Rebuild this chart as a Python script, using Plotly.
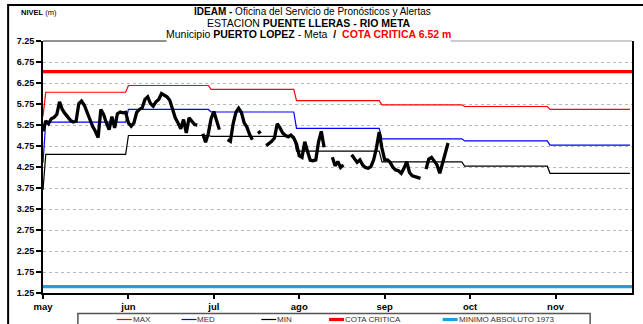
import datetime as dt
import plotly.graph_objects as go

# ---------------------------------------------------------------- data
start = dt.datetime(2011, 5, 1)

# daily water level (m) from 1 May; None = no reading
nivel = [
    5.10, 5.35, 5.28, 5.40, 5.43, 5.50, 5.80, 5.62, 5.52, 5.44,
    5.36, 5.32, 5.34, 5.76, 5.82, 5.72, 5.55, 5.40, 5.22, 5.10,
    4.95, 5.62, 5.50, 5.30, 5.14, 5.45, 5.18, 5.52, 5.56, 5.54,
    5.55, 5.30, 5.22, 5.30, 5.55, 5.62, 5.66, 5.86, 5.92, 5.76,
    5.70, 5.80, 5.86, 6.00, 5.96, 5.92, 5.84, 5.62, 5.42, 5.30,
    5.16, 5.38, 5.06, 5.42, 5.33, 5.26, 5.25, None, 5.04, 4.84,
    5.05, 5.40, 5.57, 5.35, 5.14, None, None, 4.90, 4.86, 5.28,
    5.55, 5.65, 5.55, 5.30, 5.20, 5.02, 4.90, None, 5.05, 5.10,
    None, 4.76, 4.80, 4.86, 4.94, 5.28, 5.18, 5.06, 5.00, 4.97,
    5.01, 4.94, 4.80, 4.52, 4.48, 4.85, 4.62, 4.41, 4.40, 4.42,
    4.85, 5.10, 4.72, None, None, 4.48, 4.28, 4.38, 4.24, 4.30,
    None, None, 4.54, 4.46, 4.36, 4.42, 4.30, 4.24, 4.22, 4.26,
    4.42, 4.70, 5.08, 4.70, 4.42, 4.42, 4.36, 4.24, 4.18, 4.16,
    4.10, 4.22, 4.38, 4.12, 4.04, 4.02, 4.00, 3.98, None, 4.20,
    4.44, 4.48, 4.38, 4.30, 4.10, 4.36, 4.54, 4.82,
]

# monthly statistics, May..Nov (value on 1 May listed separately)
meses = ["may", "jun", "jul", "ago", "sep", "oct", "nov"]
max_mes = [6.03, 6.19, 6.10, 5.83, 5.73, 5.69, 5.62]
med_mes = [5.32, 5.62, 5.56, 5.17, 4.92, 4.87, 4.77]
min_mes = [4.55, 5.00, 4.98, 4.63, 4.37, 4.27, 4.10]
max_ini, med_ini, min_ini = 5.46, 4.35, 3.70

cota_critica = 6.52
minimo_1973 = 1.40

y_ticks = [1.25 + 0.5 * i for i in range(13)]

# ---------------------------------------------------------------- helpers
dias = [start + dt.timedelta(days=i) for i in range(len(nivel))]
fin = start + dt.timedelta(days=213.75)


def month_start(i):
    y, m = start.year, start.month + i
    while m > 12:
        m -= 12
        y += 1
    return dt.datetime(y, m, 1)


def escalones(first, vals):
    xs, ys = [start], [first]
    for i, v in enumerate(vals):
        d0 = month_start(i)
        if i == 0:
            d0 = start + dt.timedelta(days=1)
        d1 = month_start(i + 1) - dt.timedelta(days=1)
        xs += [d0, d1]
        ys += [v, v]
    return xs, ys


ROJO, AZUL, NEGRO, CELESTE = "#ff0000", "#0000ff", "#000000", "#1ea0d8"
FONT = "Liberation Sans, Arial, sans-serif"

series = [
    ("MAX", ROJO, 1.2, *escalones(max_ini, max_mes)),
    ("MED", AZUL, 1.2, *escalones(med_ini, med_mes)),
    ("MIN", NEGRO, 1.2, *escalones(min_ini, min_mes)),
    ("COTA CRITICA", ROJO, 3.2, [start, fin + dt.timedelta(days=2)], [cota_critica] * 2),
    ("MINIMO ABSOLUTO 1973", CELESTE, 3.2, [start, fin + dt.timedelta(days=2)], [minimo_1973] * 2),
]

fig = go.Figure()
for nombre, color, ancho, xs, ys in series:
    fig.add_trace(go.Scatter(x=xs, y=ys, mode="lines", name=nombre,
                             line=dict(color=color, width=ancho), hoverinfo="skip"))

fig.add_trace(go.Scatter(x=dias, y=nivel, mode="lines", name="NIVEL",
                         line=dict(color="black", width=3.3), connectgaps=False))

# ---------------------------------------------------------------- layout
L, R, T, B = 43, 634, 41, 293
W, H = 643, 324


def px(p):
    return (p - L) / (R - L)


def py(p):
    return (B - p) / (B - T)


shapes = [
    # outer frame
    dict(type="rect", xref="paper", yref="paper", x0=px(8), x1=px(700), y0=py(400), y1=py(5),
         line=dict(color="black", width=2), layer="above"),
    # plot top edge, interrupted by the title block
    dict(type="line", xref="paper", yref="paper", x0=px(43), x1=px(167), y0=1, y1=1,
         line=dict(color="#222", width=1), layer="above"),
    dict(type="line", xref="paper", yref="paper", x0=px(452), x1=px(634), y0=1, y1=1,
         line=dict(color="#999", width=1), layer="above"),
    # legend box
    dict(type="rect", xref="paper", yref="paper", x0=px(78), x1=px(592), y0=py(400), y1=py(313.5),
         line=dict(color="#555", width=1.5), fillcolor="white", layer="above"),
]

annotations = [
    dict(text="<b>NIVEL</b> (m)", x=px(20), y=py(13), xanchor="left", yanchor="middle",
         font=dict(size=7.5, family=FONT)),
    dict(text="<b>IDEAM -</b> Oficina del Servicio de Pronósticos y Alertas",
         x=px(313), y=py(12), xanchor="center", yanchor="middle", font=dict(size=10, family=FONT)),
    dict(text="ESTACION <b>PUENTE LLERAS - RIO META</b>",
         x=px(310), y=py(23), xanchor="center", yanchor="middle", font=dict(size=10.5, family=FONT)),
    dict(text=("Municipio <b>PUERTO LOPEZ</b> - Meta &nbsp;<b>/</b>&nbsp; "
               f"<b><span style='color:{ROJO}'>COTA CRITICA {cota_critica:.2f} m</span></b>"),
         x=px(309), y=py(34), xanchor="center", yanchor="middle", font=dict(size=10.5, family=FONT)),
]

# legend drawn as short line samples with labels
legend_x = [117, 182, 262, 330, 444]
for (nombre, color, ancho, _, _), x0 in zip(series, legend_x):
    largo = 15
    shapes.append(dict(type="line", xref="paper", yref="paper", x0=px(x0), x1=px(x0 + largo),
                       y0=py(319.5), y1=py(319.5), line=dict(color=color, width=ancho), layer="above"))
    annotations.append(dict(text=nombre, x=px(x0 + largo), y=py(319.5), xanchor="left", yanchor="middle",
                            font=dict(size=8, family=FONT, color="#333")))

for a in annotations:
    a.update(xref="paper", yref="paper", showarrow=False, borderpad=0)

fig.update_layout(
    width=W, height=H,
    margin=dict(l=L, r=W - R, t=T, b=H - B, pad=0),
    plot_bgcolor="white", paper_bgcolor="white",
    showlegend=False,
    font=dict(family=FONT, size=9, color="black"),
    shapes=shapes, annotations=annotations,
    xaxis=dict(
        type="date", range=[start, fin],
        tickvals=[start + dt.timedelta(days=31 * k) for k in range(len(meses))],
        ticktext=meses,
        ticks="outside", ticklen=4, tickwidth=1.5, tickcolor="black",
        tickfont=dict(size=9.5, family=FONT, weight="bold"),
        showline=True, linecolor="black", linewidth=2,
        showgrid=False, zeroline=False,
    ),
    yaxis=dict(
        range=[1.25, 7.25],
        tickvals=y_ticks, ticktext=[f"{v:.2f}" for v in y_ticks],
        ticks="outside", ticklen=5, tickwidth=1.5, tickcolor="black",
        tickfont=dict(size=9, family=FONT, weight="bold"),
        showline=True, linecolor="black", linewidth=2, mirror=True,
        showgrid=True, gridcolor="#b8b8b8", griddash="dot", gridwidth=1,
        zeroline=False,
    ),
)

fig.write_html("out.html")
